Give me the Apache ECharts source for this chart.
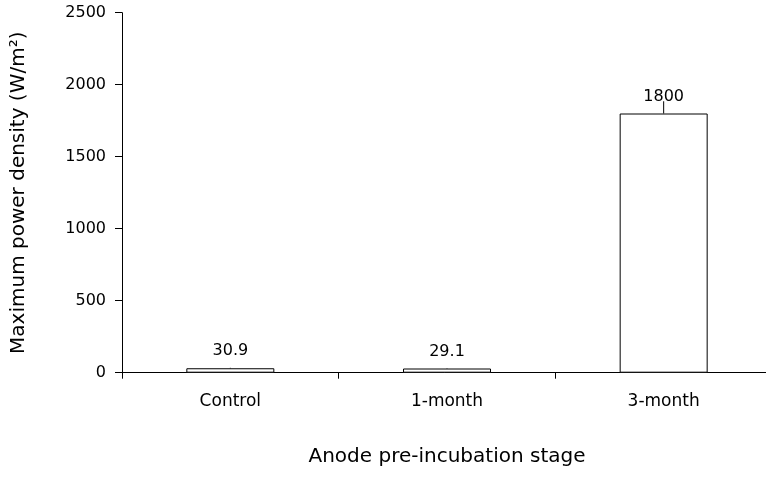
<!DOCTYPE html>
<html><head><meta charset="utf-8">
<script src="https://cdn.jsdelivr.net/npm/echarts@6/dist/echarts.min.js"></script>
<style>html,body{margin:0;padding:0;background:#fff}#c{width:766px;height:478px}</style>
</head><body><div id="c"></div>
<script>
var categories = ['Control', '1-month', '3-month'];
var values = [30.9, 29.1, 1800];
var labels = ['30.9', '29.1', '1800'];
var errors = [3, 3, 85];
var yTicks = [0, 500, 1000, 1500, 2000, 2500];

var FONT = '"DejaVu Sans", "Liberation Sans", Arial, sans-serif';
var chart = echarts.init(document.getElementById('c'), null, {renderer: 'canvas'});
chart.setOption({
  animation: false,
  backgroundColor: '#fff',
  grid: {left: 122, right: -6, top: 12.7, bottom: 105.3, containLabel: false, outerBoundsMode: 'none'},
  xAxis: {
    type: 'category', data: categories,
    name: 'Anode pre-incubation stage', nameLocation: 'middle', nameGap: 74,
    nameTextStyle: {fontFamily: FONT, fontSize: 20, color: '#000'},
    axisLine: {lineStyle: {color: '#000', width: 1}},
    axisTick: {show: true, length: 6, alignWithLabel: false, lineStyle: {color: '#000'}},
    axisLabel: {fontFamily: FONT, fontSize: 17, color: '#000', margin: 20}
  },
  yAxis: {
    type: 'value', min: yTicks[0], max: yTicks[yTicks.length - 1], interval: 500,
    name: 'Maximum power density (W/m\u00B2)', nameLocation: 'middle', nameGap: 93,
    nameRotate: 90,
    nameTextStyle: {fontFamily: FONT, fontSize: 20, color: '#000'},
    axisLine: {show: true, lineStyle: {color: '#000', width: 1}},
    axisTick: {show: true, length: 7, lineStyle: {color: '#000'}},
    axisLabel: {fontFamily: FONT, fontSize: 16, color: '#000', margin: 16,
      formatter: function (v) { return String(v); }},
    splitLine: {show: false}
  },
  series: [{
    type: 'bar', data: values, barWidth: 88,
    itemStyle: {color: '#fff', borderColor: '#000', borderWidth: 1},
    label: {show: false}
  }, {
    type: 'custom',
    data: values.map(function (v, i) { return [i, v, errors[i]]; }),
    renderItem: function (params, api) {
      var x = api.value(0), v = api.value(1), e = api.value(2);
      var p0 = api.coord([x, v]);
      var p1 = api.coord([x, v + e]);
      return {type: 'line', shape: {x1: p0[0], y1: p0[1], x2: p1[0], y2: p1[1]},
              style: {stroke: '#000', lineWidth: 1}};
    },
    z: 3
  }, {
    type: 'custom',
    data: values.map(function (v, i) { return [i, v]; }),
    renderItem: function (params, api) {
      var p = api.coord([api.value(0), api.value(1)]);
      return {type: 'text', x: p[0], y: p[1] - 9,
        style: {text: labels[params.dataIndex], fill: '#000', font: '16px ' + FONT,
                textAlign: 'center', textVerticalAlign: 'bottom'}};
    },
    z: 4
  }]
});
</script></body></html>
